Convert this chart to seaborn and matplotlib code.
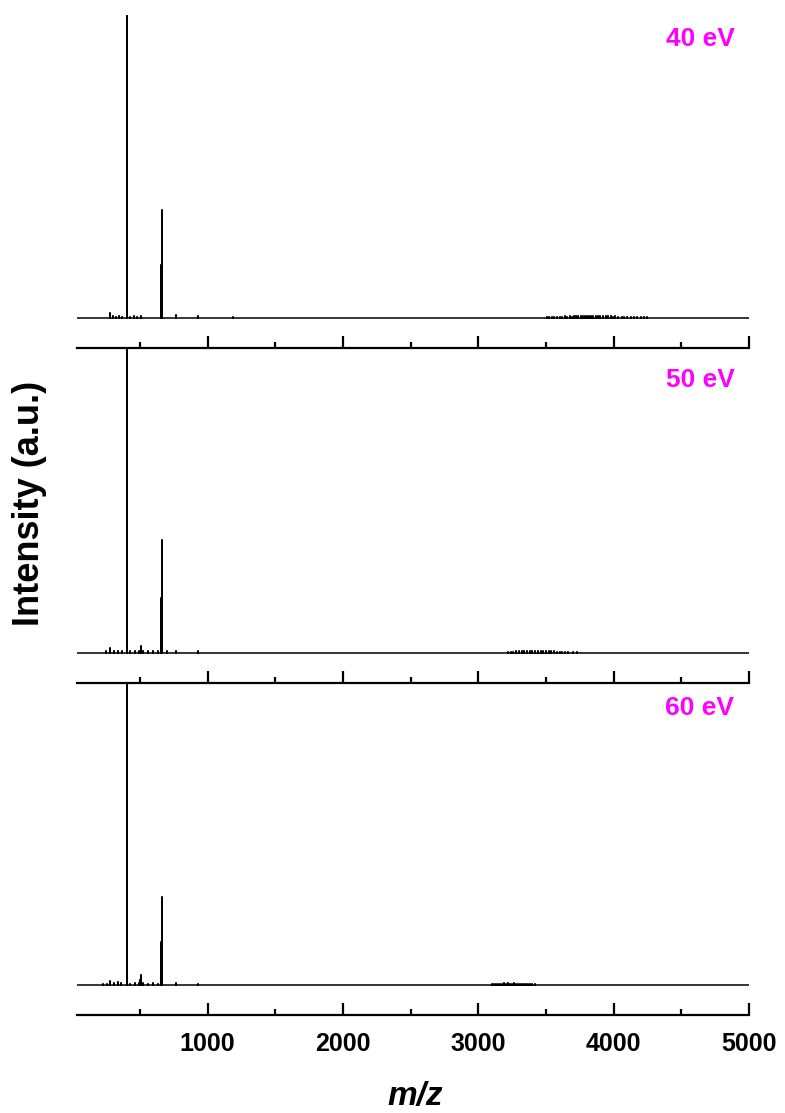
import numpy as np
import pandas as pd
import matplotlib
matplotlib.use("Agg")
import matplotlib.pyplot as plt
import seaborn as sns
from matplotlib.ticker import FixedLocator

# ---------------- data ----------------
energies = ["40 eV", "50 eV", "60 eV"]

mz_40 = [282, 300, 320, 345, 370, 403, 404, 430, 455, 480, 506,
         658, 660, 661, 663, 770, 928, 1186,
         3510, 3525, 3545, 3560, 3580, 3600, 3615, 3640, 3655, 3675, 3690, 3705,
         3720, 3740, 3760, 3775, 3790, 3800, 3815, 3830, 3850, 3870, 3885, 3900,
         3920, 3940, 3960, 3980, 3995, 4010, 4030, 4060, 4080, 4100, 4125, 4150,
         4175, 4200, 4225, 4250]
int_40 = [0.016, 0.005, 0.004, 0.006, 0.004, 1.0, 1.0, 0.004, 0.005, 0.004, 0.006,
          0.175, 0.357, 0.20, 0.05, 0.008, 0.005, 0.004,
          0.003, 0.004, 0.003, 0.004, 0.004, 0.003, 0.004, 0.005, 0.004, 0.005, 0.004, 0.005,
          0.006, 0.005, 0.005, 0.006, 0.005, 0.006, 0.005, 0.006, 0.005, 0.007, 0.005, 0.006,
          0.005, 0.006, 0.005, 0.006, 0.004, 0.005, 0.004, 0.004, 0.003, 0.004, 0.003, 0.003,
          0.003, 0.003, 0.002, 0.003]

mz_50 = [250, 282, 310, 340, 370, 403, 404, 430, 460, 490, 506, 520, 560, 600,
         630, 658, 660, 661, 663, 700, 770, 928,
         3220, 3240, 3260, 3280, 3300, 3320, 3340, 3360, 3380, 3400, 3420, 3440,
         3460, 3480, 3500, 3520, 3540, 3560, 3580, 3600, 3620, 3640, 3660, 3700, 3730]
int_50 = [0.004, 0.014, 0.006, 0.007, 0.005, 1.0, 1.0, 0.004, 0.005, 0.006, 0.022, 0.006,
          0.004, 0.005, 0.004, 0.18, 0.37, 0.21, 0.046, 0.004, 0.006, 0.004,
          0.002, 0.003, 0.003, 0.004, 0.004, 0.004, 0.004, 0.005, 0.004, 0.004, 0.005, 0.004,
          0.004, 0.004, 0.005, 0.004, 0.004, 0.004, 0.003, 0.003, 0.003, 0.002, 0.002, 0.003, 0.003]

mz_60 = [230, 260, 282, 310, 340, 360, 403, 404, 430, 460, 490, 503, 506, 520,
         560, 600, 630, 658, 660, 661, 663, 770, 928,
         3100, 3115, 3130, 3145, 3160, 3175, 3190, 3205, 3220, 3235, 3250, 3265,
         3280, 3295, 3310, 3325, 3340, 3355, 3370, 3385, 3400, 3420]
int_60 = [0.003, 0.004, 0.012, 0.005, 0.008, 0.005, 1.0, 1.0, 0.004, 0.005, 0.006, 0.017,
          0.033, 0.006, 0.004, 0.005, 0.004, 0.142, 0.29, 0.165, 0.04, 0.005, 0.004,
          0.002, 0.003, 0.003, 0.004, 0.004, 0.004, 0.005, 0.004, 0.005, 0.004, 0.004, 0.005,
          0.004, 0.004, 0.004, 0.004, 0.003, 0.003, 0.003, 0.003, 0.002, 0.002]

spectra = [(mz_40, int_40), (mz_50, int_50), (mz_60, int_60)]

major_ticks = [1000, 2000, 3000, 4000, 5000]
minor_ticks = [500, 1500, 2500, 3500, 4500]
tick_labels = ["1000", "2000", "3000", "4000", "5000"]
x_min, x_max = 35, 5000

# ---------------- style ----------------
sns.set_theme(style="ticks")
plt.rcParams["font.family"] = ["Liberation Sans", "DejaVu Sans"]
plt.rcParams["font.weight"] = "bold"
plt.rcParams["text.color"] = "black"
plt.rcParams["xtick.color"] = "black"
plt.rcParams["xtick.labelcolor"] = "black"
plt.rcParams["axes.labelcolor"] = "black"

W, H = 785, 1113
fig = plt.figure(figsize=(W / 100, H / 100), dpi=100)

left = 77 / W
width = (749 - 77) / W
panels_px = [(15, 348), (349, 683), (683, 1015)]
label_y = [0.928, 0.907, 0.925]

for i, ((top, bot), (mz, inten), lab) in enumerate(zip(panels_px, spectra, energies)):
    ax = fig.add_axes([left, 1 - bot / H, width, (bot - top) / H])
    xs, ys = [x_min], [0.0]
    for m, v in sorted(zip(mz, inten)):
        xs += [m, m, m]
        ys += [0.0, v, 0.0]
    xs.append(x_max)
    ys.append(0.0)
    df = pd.DataFrame({"mz": xs, "intensity": ys})
    sns.lineplot(data=df, x="mz", y="intensity", sort=False, estimator=None,
                 color="black", lw=1.1, ax=ax)
    ax.set_xlim(x_min, x_max)
    ax.set_ylim(-0.1, 1.0)
    for s in ["left", "right", "top"]:
        ax.spines[s].set_visible(False)
    ax.spines["bottom"].set_linewidth(1.6)
    ax.spines["bottom"].set_color("black")
    ax.set_yticks([])
    ax.xaxis.set_major_locator(FixedLocator(major_ticks))
    ax.xaxis.set_minor_locator(FixedLocator(minor_ticks))
    ax.tick_params(axis="x", which="major", direction="in", length=9, width=1.6,
                   color="black", labelcolor="black", pad=12, labelsize=18)
    ax.tick_params(axis="x", which="minor", direction="in", length=4.5, width=1.6,
                   color="black", bottom=True)
    ax.set_xlabel("")
    ax.set_ylabel("")
    ax.patch.set_alpha(0)
    if i < 2:
        ax.set_xticklabels([])
    else:
        ax.set_xticklabels(tick_labels, fontweight="bold", fontsize=18, color="black")
    ax.text(0.927, label_y[i], lab, transform=ax.transAxes, color="#FF00FF",
            fontsize=19, fontweight="bold", ha="center", va="center")

fig.text(0.038, 1 - 503 / H, "Intensity (a.u.)", rotation=90, fontsize=26,
         fontweight="bold", ha="center", va="center", color="black")
fig.text(415 / W, 1 - 1097 / H, "m/z", fontsize=24, fontweight="bold",
         style="italic", ha="center", va="center", color="black")

fig.savefig("out.png", dpi=100)
